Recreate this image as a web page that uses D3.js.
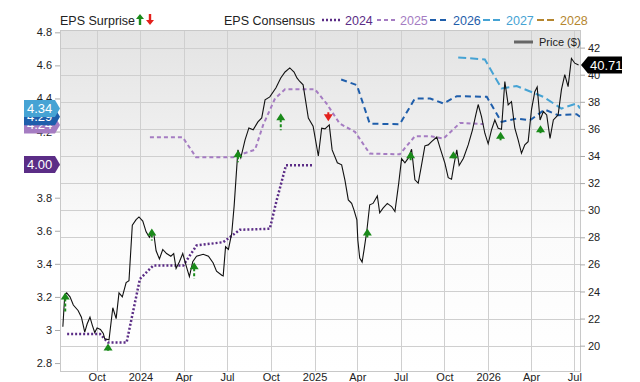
<!DOCTYPE html>
<html>
<head>
<meta charset="utf-8">
<script src="https://cdn.jsdelivr.net/npm/d3@7"></script>
<style>
body { margin: 0; background: #fff; }
svg { font-family: "Liberation Sans", Arial, sans-serif; }
</style>
</head>
<body>
<svg id="chart" width="640" height="382"></svg>
<script>
// price, weekly-ish closes
var priceDates = ["2023-07-22","2023-07-26","2023-07-30","2023-08-06","2023-08-13","2023-08-23","2023-08-30","2023-09-06","2023-09-11","2023-09-17","2023-09-22","2023-09-27","2023-10-02","2023-10-09","2023-10-15","2023-10-18","2023-10-27","2023-11-04","2023-11-11","2023-11-17","2023-11-24","2023-12-02","2023-12-08","2023-12-15","2023-12-23","2023-12-29","2024-01-06","2024-01-13","2024-01-20","2024-01-25","2024-01-29","2024-02-03","2024-02-10","2024-02-17","2024-02-25","2024-03-05","2024-03-11","2024-03-16","2024-03-23","2024-03-30","2024-04-07","2024-04-13","2024-04-20","2024-04-28","2024-05-12","2024-05-23","2024-06-02","2024-06-09","2024-06-20","2024-06-23","2024-06-28","2024-07-04","2024-07-11","2024-07-16","2024-07-24","2024-07-30","2024-08-08","2024-08-16","2024-08-25","2024-09-04","2024-09-12","2024-09-19","2024-09-29","2024-10-12","2024-10-22","2024-10-31","2024-11-10","2024-11-19","2024-11-25","2024-12-01","2024-12-08","2024-12-19","2024-12-29","2025-01-09","2025-01-16","2025-01-23","2025-02-01","2025-02-07","2025-02-18","2025-02-27","2025-03-06","2025-03-13","2025-03-20","2025-03-25","2025-03-31","2025-04-02","2025-04-06","2025-04-11","2025-04-15","2025-04-21","2025-04-27","2025-05-04","2025-05-13","2025-05-18","2025-05-25","2025-06-03","2025-06-12","2025-06-19","2025-06-27","2025-07-03","2025-07-10","2025-07-17","2025-07-24","2025-07-31","2025-08-07","2025-08-14","2025-08-21","2025-08-28","2025-09-04","2025-09-15","2025-09-22","2025-10-02","2025-10-09","2025-10-16","2025-10-21","2025-10-27","2025-11-01","2025-11-10","2025-11-20","2025-11-29","2025-12-06","2025-12-11","2025-12-18","2025-12-25","2026-01-01","2026-01-08","2026-01-15","2026-01-22","2026-01-29","2026-02-05","2026-02-12","2026-02-19","2026-02-26","2026-03-05","2026-03-12","2026-03-19","2026-03-26","2026-04-02","2026-04-09","2026-04-14","2026-04-20","2026-04-27","2026-05-04","2026-05-11","2026-05-18","2026-05-28","2026-06-04","2026-06-11","2026-06-18","2026-06-25","2026-07-02","2026-07-10"];
var priceValues = [21.4,23.75,23.9,23.6,23.0,22.6,22.1,21.0,21.6,22.1,21.5,20.97,21.3,21.2,20.9,20.5,20.43,22.8,22.0,23.9,23.6,24.65,24.8,28.9,29.3,29.5,29.2,28.4,28.0,28.4,28.3,27.0,26.4,27.1,26.8,26.6,26.8,25.7,26.2,26.8,25.8,25.1,26.2,26.6,26.75,26.6,26.1,25.5,25.2,25.15,27.3,27.1,28.3,30.3,34.45,33.86,35.19,36.07,35.93,36.52,36.81,38.14,38.36,39.03,39.76,40.2,40.5,40.2,39.76,39.5,39.25,36.8,36.2,34.0,36.05,36.0,36.3,34.45,33.5,33.35,32.2,30.76,30.5,30.0,29.28,27.8,26.46,26.17,27.05,28.5,30.4,30.5,31.05,29.8,30.15,30.5,30.27,29.9,32.0,33.8,33.5,33.84,34.5,32.24,32.0,33.34,34.75,34.82,35.06,35.4,34.58,33.47,32.4,32.29,33.34,34.45,33.3,33.84,34.82,35.93,37.03,37.8,36.91,35.68,34.9,35.93,36.66,36.05,35.98,39.5,37.77,38.01,36.05,35.19,34.2,34.82,35.06,37.4,38.75,39.1,36.66,37.28,37.03,35.3,36.66,37.03,38.9,40.0,39.12,41.2,40.85,40.71];

// EPS consensus per fiscal year
var cons2024 = [["2023-07-31",2.976],["2023-10-08",2.976],["2023-10-25",2.925],["2023-12-03",2.925],["2023-12-31",3.309],["2024-01-28",3.39],["2024-03-31",3.39],["2024-04-28",3.511],["2024-06-23",3.531],["2024-07-28",3.606],["2024-09-29",3.612],["2024-10-13",3.78],["2024-11-02",3.996],["2024-12-29",3.996]];
var cons2025 = [["2024-01-21",4.165],["2024-03-30",4.165],["2024-04-27",4.045],["2024-07-14",4.045],["2024-07-28",4.06],["2024-08-29",4.09],["2024-09-15",4.24],["2024-10-10",4.40],["2024-10-31",4.455],["2025-01-02",4.455],["2025-01-26",4.37],["2025-02-23",4.248],["2025-03-27",4.198],["2025-04-27",4.067],["2025-06-29",4.062],["2025-07-31",4.172],["2025-09-01",4.172],["2025-09-29",4.158],["2025-11-03",4.252],["2025-12-22",4.245]];
var cons2026 = [["2025-02-26",4.515],["2025-03-31",4.481],["2025-04-27",4.248],["2025-06-29",4.244],["2025-07-31",4.40],["2025-09-01",4.40],["2025-09-29",4.37],["2025-10-27",4.414],["2025-12-29",4.41],["2026-01-29",4.258],["2026-03-02",4.279],["2026-03-30",4.268],["2026-04-30",4.333],["2026-05-28",4.299],["2026-07-06",4.305],["2026-07-13",4.29]];
var cons2027 = [["2025-10-30",4.648],["2025-12-25",4.636],["2026-01-29",4.461],["2026-03-02",4.475],["2026-04-27",4.41],["2026-06-04",4.339],["2026-07-06",4.37],["2026-07-13",4.34]];
var cons2028 = [];

var consYears = ["2024", "2025", "2026", "2027", "2028"];
var consColors = ["#5b2d86", "#a57cc2", "#1f5eab", "#46a3d4", "#b5862f"];
var consDash = ["2,2", "4,3", "6,4", "8,4", "8,4"];

// EPS surprises
var surpriseDates = ["2023-07-27","2023-10-25","2024-01-25","2024-04-23","2024-07-24","2024-10-22","2025-01-30","2025-04-22","2025-07-22","2025-10-20","2026-01-27","2026-04-21"];
var surpriseActual = [3.226,2.919,3.614,3.41,4.087,4.311,4.262,3.614,4.081,4.081,4.198,4.238];
var surpriseEstimate = [3.111,2.875,3.541,3.311,4.014,4.208,4.329,3.553,4.026,4.038,4.147,4.19];

// latest consensus flags (draw order)
var flagYears = ["2024", "2025", "2026", "2027"];
var flagValues = [4.00, 4.24, 4.29, 4.34];
var lastPrice = 40.71;

var epsTicks = d3.range(14, 25).map(function(d) { return d / 5; });
var priceTicks = d3.range(20, 43, 2);

var parse = d3.timeParse("%Y-%m-%d");
var svg = d3.select("#chart");
var L = 60, R = 580, T = 30, B = 371;

var x = d3.scaleTime().domain([parse("2023-07-16"), parse("2026-07-13")]).range([L, R]);
var yEps = d3.scaleLinear().domain([2.752, 4.814]).range([B, T]);
var yPrice = d3.scaleLinear().domain([18.13, 43.3]).range([B, T]);

var defs = svg.append("defs");
var grad = defs.append("linearGradient").attr("id", "bg").attr("x1", 0).attr("x2", 0).attr("y1", 0).attr("y2", 1);
grad.append("stop").attr("offset", "0%").attr("stop-color", "#e3e3e3");
grad.append("stop").attr("offset", "60%").attr("stop-color", "#fbfbfb");
grad.append("stop").attr("offset", "100%").attr("stop-color", "#ffffff");
defs.append("clipPath").attr("id", "clip").append("rect")
    .attr("x", L).attr("y", T).attr("width", R - L).attr("height", B - T);

svg.append("rect").attr("x", L).attr("y", T).attr("width", R - L).attr("height", B - T)
    .attr("fill", "url(#bg)");

// grid
var xTicks = x.ticks(d3.timeMonth.every(3));
svg.append("g").selectAll("line").data(xTicks).enter().append("line")
    .attr("x1", function(d) { return Math.round(x(d)) + 0.5; })
    .attr("x2", function(d) { return Math.round(x(d)) + 0.5; })
    .attr("y1", T).attr("y2", B)
    .attr("stroke", "#cfcfcf");
svg.append("g").selectAll("line").data(priceTicks).enter().append("line")
    .attr("x1", L).attr("x2", R)
    .attr("y1", function(d) { return Math.round(yPrice(d)) + 0.5; })
    .attr("y2", function(d) { return Math.round(yPrice(d)) + 0.5; })
    .attr("stroke", "#cfcfcf");
svg.append("rect").attr("x", L + 0.5).attr("y", T + 0.5).attr("width", R - L).attr("height", B - T)
    .attr("fill", "none").attr("stroke", "#c8c8c8");

// axes
var fmtMonth = function(d) { return d.getMonth() === 0 ? d3.timeFormat("%Y")(d) : d3.timeFormat("%b")(d); };
var gx = svg.append("g").attr("transform", "translate(0," + B + ")")
    .call(d3.axisBottom(x).tickValues(xTicks).tickFormat(fmtMonth).tickSize(0).tickPadding(2));
var gl = svg.append("g").attr("transform", "translate(" + L + ",0)")
    .call(d3.axisLeft(yEps).tickValues(epsTicks).tickFormat(d3.format("~g")).tickSize(5).tickPadding(3));
var gr = svg.append("g").attr("transform", "translate(" + R + ",0)")
    .call(d3.axisRight(yPrice).tickValues(priceTicks).tickSize(5).tickPadding(3));
[gx, gl, gr].forEach(function(g) {
    g.select(".domain").remove();
    g.selectAll("line").attr("stroke", "#aaa");
    g.selectAll("text").attr("fill", "#222").style("font-size", "11px");
});

var plot = svg.append("g").attr("clip-path", "url(#clip)");

// consensus lines
var consData = [cons2024, cons2025, cons2026, cons2027, cons2028];
var consLine = d3.line()
    .x(function(d) { return x(parse(d[0])); })
    .y(function(d) { return yEps(d[1]); });
consData.forEach(function(series, i) {
    if (!series.length) return;
    plot.append("path").datum(series)
        .attr("d", consLine)
        .attr("fill", "none")
        .attr("stroke", consColors[i])
        .attr("stroke-width", i === 0 ? 2.5 : 2)
        .attr("stroke-dasharray", consDash[i]);
});

// price line
var priceData = d3.zip(priceDates, priceValues);
plot.append("path").datum(priceData)
    .attr("d", d3.line()
        .x(function(d) { return x(parse(d[0])); })
        .y(function(d) { return yPrice(d[1]); }))
    .attr("fill", "none")
    .attr("stroke", "#111")
    .attr("stroke-width", 1.1);

// surprise arrows
surpriseDates.forEach(function(ds, i) {
    var cx = x(parse(ds));
    var ya = yEps(surpriseActual[i]);
    var ye = yEps(surpriseEstimate[i]);
    var up = surpriseActual[i] >= surpriseEstimate[i];
    var col = up ? "#1a8a1a" : "#e3201b";
    var dir = up ? 1 : -1;
    plot.append("line")
        .attr("x1", cx).attr("x2", cx)
        .attr("y1", ya + dir * 6).attr("y2", ye)
        .attr("stroke", col).attr("stroke-width", 2)
        .attr("stroke-dasharray", "3,2");
    plot.append("path")
        .attr("d", "M" + cx + "," + ya + "L" + (cx - 4.5) + "," + (ya + dir * 7) + "L" + (cx + 4.5) + "," + (ya + dir * 7) + "Z")
        .attr("fill", col);
});

// legend top
var lg = svg.append("g").style("font-size", "12.5px");
lg.append("text").attr("x", 60).attr("y", 25).attr("fill", "#222").text("EPS Surprise");
lg.append("path").attr("d", "M140,14L136,19L138.8,19L138.8,25L141.2,25L141.2,19L144,19Z").attr("fill", "#1a8a1a");
lg.append("path").attr("d", "M150,25L146,20L148.8,20L148.8,14L151.2,14L151.2,20L154,20Z").attr("fill", "#e3201b");
lg.append("text").attr("x", 224).attr("y", 25).attr("fill", "#222").text("EPS Consensus");
var legX = [322, 377, 430, 483, 537];
consYears.forEach(function(yr, i) {
    lg.append("line")
        .attr("x1", legX[i]).attr("x2", legX[i] + 20)
        .attr("y1", 20).attr("y2", 20)
        .attr("stroke", consColors[i])
        .attr("stroke-width", i === 0 ? 2.5 : 2)
        .attr("stroke-dasharray", consDash[i] === "8,4" ? "7,3" : consDash[i]);
    lg.append("text").attr("x", legX[i] + 23).attr("y", 25)
        .attr("fill", consColors[i]).text(yr);
});

// price legend
svg.append("line").attr("x1", 514).attr("x2", 533).attr("y1", 42).attr("y2", 42)
    .attr("stroke", "#666").attr("stroke-width", 3);
svg.append("text").attr("x", 539).attr("y", 46).attr("fill", "#222")
    .style("font-size", "11px").text("Price ($)");

// left flags
flagValues.forEach(function(v, i) {
    var c = yEps(v);
    var col = consColors[consYears.indexOf(flagYears[i])];
    svg.append("path")
        .attr("d", "M24," + (c - 8.5) + "L55," + (c - 8.5) + "L60," + c + "L55," + (c + 8.5) + "L24," + (c + 8.5) + "Z")
        .attr("fill", col);
    svg.append("text").attr("x", 27).attr("y", c + 4.5)
        .attr("fill", "#fff").style("font-size", "13px")
        .text(d3.format(".2f")(v));
});

// right price flag
var pc = yPrice(lastPrice);
svg.append("path")
    .attr("d", "M581," + pc + "L588," + (pc - 8.5) + "L622," + (pc - 8.5) + "L622," + (pc + 8.5) + "L588," + (pc + 8.5) + "Z")
    .attr("fill", "#000");
svg.append("text").attr("x", 590).attr("y", pc + 4.5)
    .attr("fill", "#fff").style("font-size", "13px")
    .text(d3.format(".2f")(lastPrice));
</script>
</body>
</html>
